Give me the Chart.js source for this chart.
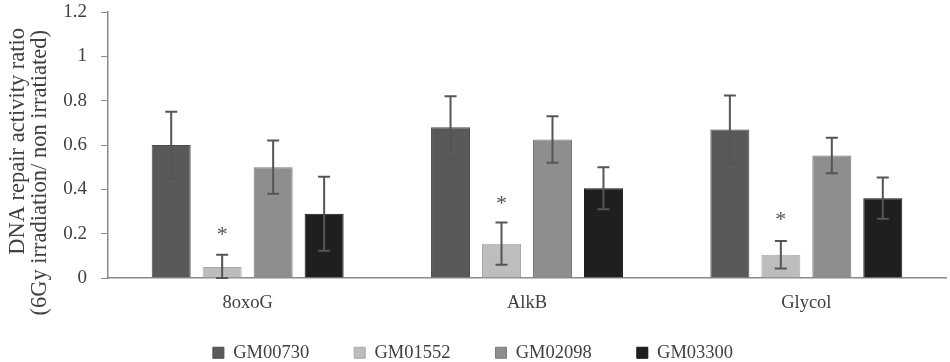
<!DOCTYPE html>
<html>
<head>
<meta charset="utf-8">
<script src="https://cdn.jsdelivr.net/npm/chart.js@4.4.0/dist/chart.umd.min.js"></script>
<style>
html,body{margin:0;padding:0;background:#fff;}
#wrap{width:950px;height:362px;position:relative;}
</style>
</head>
<body>
<div id="wrap"><canvas id="c" width="950" height="362"></canvas></div>
<script>
const categories = ['8oxoG', 'AlkB', 'Glycol'];
const seriesNames = ['GM00730', 'GM01552', 'GM02098', 'GM03300'];
const gm00730 = [0.60, 0.68, 0.67];
const gm01552 = [0.05, 0.155, 0.105];
const gm02098 = [0.50, 0.625, 0.553];
const gm03300 = [0.29, 0.405, 0.36];
const err00730 = [0.15, 0.14, 0.153];
const err01552 = [0.055, 0.095, 0.062];
const err02098 = [0.12, 0.105, 0.08];
const err03300 = [0.167, 0.095, 0.093];
// significance marks (asterisk) for GM01552, drawn at these y values
const starLevel01552 = [0.212, 0.352, 0.277];
const yTicks = [0, 0.2, 0.4, 0.6, 0.8, 1, 1.2];
const yTitleLines = ['DNA repair activity ratio', '(6Gy irradiation/ non irratiated)'];

const colors = ['#595959', '#bdbdbd', '#8e8e8e', '#1f1f1f'];
const borders = ['#4a4a4a', '#a8a8a8', '#7a7a7a', '#141414'];
const values = [gm00730, gm01552, gm02098, gm03300];
const errors = [err00730, err01552, err02098, err03300];

const textColor = '#404040';
const serif = '"Liberation Serif", "Times New Roman", serif';

const errorBarPlugin = {
  id: 'errorBars',
  afterDatasetsDraw(chart) {
    const ctx = chart.ctx;
    const y = chart.scales.y;
    ctx.save();
    ctx.strokeStyle = '#555';
    ctx.lineWidth = 2;
    chart.data.datasets.forEach((ds, di) => {
      const meta = chart.getDatasetMeta(di);
      meta.data.forEach((bar, i) => {
        const v = ds.data[i], e = ds.errors[i];
        const yt = y.getPixelForValue(v + e);
        const yb = y.getPixelForValue(Math.max(0, v - e));
        const x = bar.x;
        ctx.beginPath();
        ctx.moveTo(x, yt); ctx.lineTo(x, yb);
        ctx.moveTo(x - 6, yt); ctx.lineTo(x + 6, yt);
        ctx.moveTo(x - 6, yb); ctx.lineTo(x + 6, yb);
        ctx.stroke();
      });
      if (ds.stars) {
        ctx.fillStyle = '#555';
        ctx.font = '22px ' + serif;
        ctx.textAlign = 'center';
        ctx.textBaseline = 'middle';
        meta.data.forEach((bar, i) => {
          ctx.fillText('*', bar.x, y.getPixelForValue(ds.stars[i]) + 4);
        });
      }
    });
    ctx.restore();
  }
};

// y-axis title: two rotated lines, end-aligned near the top like the reference
const yTitlePlugin = {
  id: 'yTitle',
  afterDraw(chart) {
    const ctx = chart.ctx;
    ctx.save();
    ctx.fillStyle = textColor;
    ctx.font = '22.5px ' + serif;
    ctx.textAlign = 'right';
    ctx.textBaseline = 'middle';
    const xs = [18, 40];
    const ends = [28, 30];
    yTitleLines.forEach((t, i) => {
      ctx.save();
      ctx.translate(xs[i], ends[i]);
      ctx.rotate(-Math.PI / 2);
      ctx.fillText(t, 0, 0);
      ctx.restore();
    });
    ctx.restore();
  }
};

new Chart(document.getElementById('c'), {
  type: 'bar',
  data: {
    labels: categories,
    datasets: seriesNames.map((n, k) => ({
      label: n,
      data: values[k],
      errors: errors[k],
      stars: k === 1 ? starLevel01552 : null,
      backgroundColor: colors[k],
      borderColor: borders[k],
      borderWidth: 1,
      barPercentage: 0.765,
      categoryPercentage: 0.73
    }))
  },
  options: {
    responsive: false,
    animation: false,
    devicePixelRatio: 1,
    layout: { padding: { top: 0, right: 4, left: 0, bottom: -10 } },
    plugins: {
      tooltip: { enabled: false },
      legend: {
        position: 'bottom',
        labels: {
          boxWidth: 11, boxHeight: 11, padding: 45,
          color: textColor,
          font: { family: serif, size: 18.5 }
        }
      }
    },
    scales: {
      x: {
        grid: { display: false, drawTicks: false },
        border: { display: true, color: '#8a8a8a', width: 1.5 },
        ticks: { color: textColor, padding: 14, font: { family: serif, size: 18.5 } },
        afterFit(s) {
          s.height = 20.5;
          s._computeLabelArea = () => undefined;
        }
      },
      y: {
        min: 0, max: 1.2,
        afterBuildTicks(s) { s.ticks = yTicks.map(v => ({ value: v })); },
        grid: { drawOnChartArea: false, drawTicks: true, tickLength: 7, color: '#8a8a8a' },
        border: { display: true, color: '#8a8a8a', width: 1.5 },
        ticks: {
          color: textColor, padding: 14,
          font: { family: serif, size: 19 },
          callback: v => String(Math.round(v * 10) / 10)
        },
        title: { display: false },
        afterFit(s) {
          s.width = 108;
          s.paddingTop = 12;
          s.paddingBottom = 12;
        }
      }
    }
  },
  plugins: [errorBarPlugin, yTitlePlugin]
});
</script>
</body>
</html>
